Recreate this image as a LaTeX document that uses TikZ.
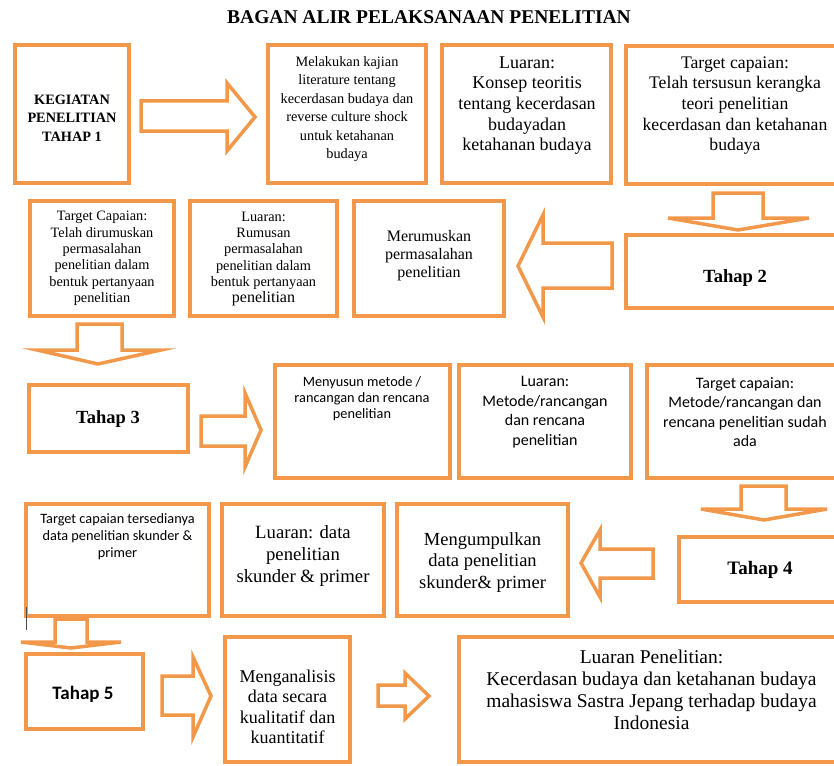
\documentclass[tikz,border=0pt]{standalone}
\usepackage{fontspec}
\setmainfont{Liberation Serif}
\newfontfamily\calfont{Carlito}
\usetikzlibrary{fit}
\definecolor{orng}{RGB}{242,152,74}
\newcommand{\fsz}[2]{\fontsize{#1}{#2}\selectfont}
\tikzset{
  box/.style={draw=orng, line width=3.5pt, inner sep=0pt},
  barrow/.style={draw=orng, line width=3.5pt, fill=white, line join=miter},
  tx/.style={align=center, inner sep=0pt, text=black},
}
\begin{document}
\begin{tikzpicture}[x=1pt,y=-1pt]
\useasboundingbox (0,0) rectangle (834,765);
% title
\node[tx, font=\fsz{19.5}{22}\bfseries] (title) at (429,17) {BAGAN ALIR PELAKSANAAN PENELITIAN};

% ---------- row 1
\node[box, fit={(15,45) (129,183)}] (A) {};
\node[box, fit={(268,45) (426,183)}] (B) {};
\node[box, fit={(442,45) (611,183)}] (C) {};
\node[box, fit={(626,46) (845,184)}] (D) {};
\node[tx, font=\fsz{14.3}{18.5}\bfseries] (At) at (72,118) {KEGIATAN\\PENELITIAN\\TAHAP 1};
\node[tx, font=\fsz{14.3}{18.4}] (Bt) at (347,109) {Melakukan kajian\\literature tentang\\kecerdasan budaya dan\\reverse culture shock\\untuk ketahanan\\budaya};
\node[tx, font=\fsz{18}{20.7}] (Ct) at (527,105.5) {Luaran:\\Konsep teoritis\\tentang kecerdasan\\budayadan\\ketahanan budaya};
\node[tx, font=\fsz{17.7}{20.7}] (Dt) at (735,105.5) {Target capaian:\\Telah tersusun kerangka\\teori penelitian\\kecerdasan dan ketahanan\\budaya};

% ---------- row 2
\node[box, fit={(30,201) (174,316)}] (TC2) {};
\node[box, fit={(190,201) (337,316)}] (LR2) {};
\node[box, fit={(354,201) (504,316)}] (MR2) {};
\node[box, fit={(626,235) (845,308)}] (T2) {};
\node[tx, font=\fsz{14.3}{16.3}] (TC2t) at (102,258.5) {Target Capaian:\\Telah dirumuskan\\permasalahan\\penelitian dalam\\bentuk pertanyaan\\penelitian};
\node[tx, font=\fsz{14.3}{16.3}] (LR2t) at (263.5,259) {Luaran:\\Rumusan\\permasalahan\\penelitian dalam\\bentuk pertanyaan\\{\fsz{16}{16.3}penelitian}};
\node[tx, font=\fsz{16}{18}] (MR2t) at (429,256) {Merumuskan\\permasalahan\\penelitian};
\node[tx, font=\fsz{18.6}{20}\bfseries] (T2t) at (735,278) {Tahap 2};

% ---------- row 3
\node[box, fit={(29,385) (188,452)}] (T3) {};
\node[box, fit={(275,365) (450,478)}] (MS3) {};
\node[box, fit={(459,365) (631,478)}] (LM3) {};
\node[box, fit={(647,365) (845,478)}] (TM3) {};
\node[tx, font=\fsz{18.5}{20}\bfseries] (T3t) at (108,419) {Tahap 3};
\node[tx, font=\calfont\fsz{14.3}{16}] (MS3t) at (362,399) {Menyusun metode /\\rancangan dan rencana\\penelitian};
\node[tx, font=\calfont\fsz{16}{19.5}] (LM3t) at (545,412) {Luaran:\\Metode/rancangan\\dan rencana\\penelitian};
\node[tx, font=\calfont\fsz{16}{19.5}] (TM3t) at (745,412) {Target capaian:\\Metode/rancangan dan\\rencana penelitian sudah\\ada};

% ---------- row 4
\node[box, fit={(26,504) (209,616)}] (TT4) {};
\node[box, fit={(222,504) (384,616)}] (LD4) {};
\node[box, fit={(397,504) (568,616)}] (MG4) {};
\node[box, fit={(679,537) (845,602)}] (T4) {};
\node[tx, font=\calfont\fsz{14.3}{17}] (TT4t) at (117.5,537) {Target capaian tersedianya\\data penelitian skunder \&\\primer};
\node[tx, font=\fsz{18.7}{22}] (LD4t) at (303,556) {Luaran: data\\penelitian\\skunder \& primer};
\node[tx, font=\fsz{18.5}{21.5}] (MG4t) at (482.5,562.5) {Mengumpulkan\\data penelitian\\skunder\& primer};
\node[tx, font=\fsz{19}{20}\bfseries] (T4t) at (760,570) {Tahap 4};

% ---------- row 5
\node[box, fit={(26,654) (143,729)}] (T5) {};
\node[box, fit={(225,637) (350,762)}] (MA5) {};
\node[box, fit={(459,637) (845,762)}] (LP5) {};
\node[tx, font=\calfont\fsz{19}{20}\bfseries] (T5t) at (83,694) {Tahap 5};
\node[tx, font=\fsz{18}{20.5}] (MA5t) at (287.5,707) {Menganalisis\\data secara\\kualitatif dan\\kuantitatif};
\node[tx, font=\fsz{19.5}{22}] (LP5t) at (651.5,690) {Luaran Penelitian:\\Kecerdasan budaya dan ketahanan budaya\\mahasiswa Sastra Jepang terhadap budaya\\Indonesia};

% ---------- block arrows
% A -> B
\draw[barrow] (141,101) -- (227,101) -- (227,83) -- (255,117) -- (227,151) -- (227,131) -- (141,131) -- cycle;
% D -> T2
\draw[barrow] (713,193) -- (763,193) -- (763,218) -- (809,218) -- (738,230) -- (668,218) -- (713,218) -- cycle;
% T2 -> MR2
\draw[barrow] (612,243) -- (543,243) -- (543,215) -- (518,266) -- (543,317) -- (543,288) -- (612,288) -- cycle;
% TC2 -> T3
\draw[barrow] (77,324) -- (122,324) -- (122,350) -- (161,350) -- (98,364) -- (37,350) -- (77,350) -- cycle;
% T3 -> MS3
\draw[barrow] (201,416) -- (245,416) -- (245,393) -- (261,430) -- (245,467) -- (245,446) -- (201,446) -- cycle;
% TM3 -> T4
\draw[barrow] (741,486) -- (786,486) -- (786,509) -- (827,509) -- (764,520) -- (701,509) -- (741,509) -- cycle;
% T4 -> MG4
\draw[barrow] (653,549) -- (600,549) -- (600,530) -- (581,563) -- (600,597) -- (600,578) -- (653,578) -- cycle;
% TT4 -> T5
\draw[barrow] (55,619) -- (87,619) -- (87,642) -- (121,642) -- (71,648) -- (21,642) -- (55,642) -- cycle;
% T5 -> MA5
\draw[barrow] (162,676) -- (193,676) -- (193,657) -- (211,696) -- (193,737) -- (193,715) -- (162,715) -- cycle;
% MA5 -> LP5
\draw[barrow] (378,685) -- (405,685) -- (405,673) -- (429,696) -- (405,719) -- (405,706) -- (378,706) -- cycle;

% text cursor mark
\draw[gray!60!black, line width=0.8pt] (26,607) -- (26,630);
\end{tikzpicture}
\end{document}
